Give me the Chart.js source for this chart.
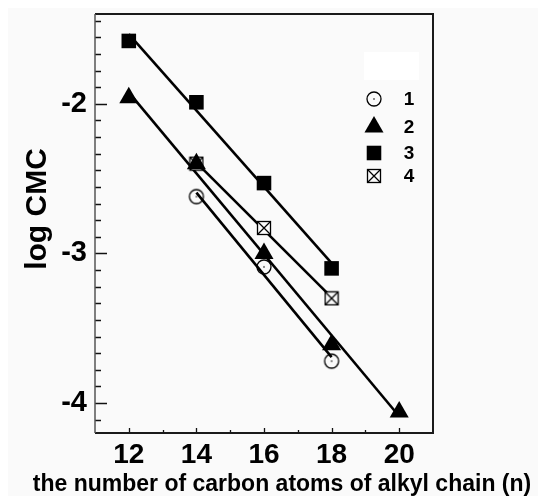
<!DOCTYPE html>
<html>
<head>
<meta charset="utf-8">
<script src="https://cdn.jsdelivr.net/npm/chart.js@4.4.1/dist/chart.umd.min.js"></script>
<style>
  html, body { margin: 0; padding: 0; background: #ffffff; }
  #grafico { display: block; }
</style>
</head>
<body>
<canvas id="grafico" width="538" height="496"></canvas>
<script>
// dados (n de carbonos x log CMC)
const xSerie1 = [14, 16, 18];
const ySerie1 = [-2.62, -3.09, -3.72];
const xSerie2 = [12, 14, 16, 18, 20];
const ySerie2 = [-1.96, -2.40, -3.00, -3.61, -4.06];
const xSerie3 = [12, 14, 16, 18];
const ySerie3 = [-1.58, -1.99, -2.53, -3.10];
const xSerie4 = [14, 16, 18];
const ySerie4 = [-2.40, -2.83, -3.30];

const nomesSeries = ["1", "2", "3", "4"];
const xTicks = [12, 14, 16, 18, 20];
const xTicksMenores = [13, 15, 17, 19];
const yTicks = [-4, -3, -2];
const yDivisoes = 9; // marcas menores por unidade no eixo y

const tituloX = "the number of carbon atoms of alkyl chain (n)";
const tituloY = "log CMC";

const fundo = "#fafafa";
const fonte = "'Liberation Sans', Arial, sans-serif";

// marcador: circulo vazio com ponto no meio
function marcadorCirculo() {
  const c = document.createElement("canvas");
  c.width = 18; c.height = 18;
  const g = c.getContext("2d");
  g.strokeStyle = "#000";
  g.lineWidth = 1.3;
  g.beginPath();
  g.arc(9, 9, 7, 0, Math.PI * 2);
  g.stroke();
  g.fillStyle = "#000";
  g.beginPath();
  g.arc(9, 9, 0.8, 0, Math.PI * 2);
  g.fill();
  return c;
}

// marcador: quadrado com X
function marcadorQuadradoX() {
  const c = document.createElement("canvas");
  c.width = 16; c.height = 16;
  const g = c.getContext("2d");
  g.fillStyle = fundo;
  g.fillRect(1, 1, 14, 14);
  g.strokeStyle = "#000";
  g.lineWidth = 1.3;
  g.strokeRect(1.5, 1.5, 13, 13);
  g.beginPath();
  g.moveTo(2, 2); g.lineTo(14, 14);
  g.moveTo(14, 2); g.lineTo(2, 14);
  g.stroke();
  return c;
}

const circulo = marcadorCirculo();
const quadradoX = marcadorQuadradoX();

const estilos = [
  { pointStyle: circulo, radius: 7 },
  { pointStyle: "triangle", radius: 11 },
  { pointStyle: "rect", radius: 10.3 },
  { pointStyle: quadradoX, radius: 8 }
];

const seriesX = [xSerie1, xSerie2, xSerie3, xSerie4];
const seriesY = [ySerie1, ySerie2, ySerie3, ySerie4];

// reta de regressao linear de cada serie
function ajusteLinear(xs, ys) {
  const n = xs.length;
  const mx = xs.reduce((a, b) => a + b, 0) / n;
  const my = ys.reduce((a, b) => a + b, 0) / n;
  let sxy = 0, sxx = 0;
  for (let i = 0; i < n; i++) {
    sxy += (xs[i] - mx) * (ys[i] - my);
    sxx += (xs[i] - mx) * (xs[i] - mx);
  }
  const a = sxy / sxx;
  const b = my - a * mx;
  const x0 = xs[0], x1 = xs[n - 1];
  return [{ x: x0, y: a * x0 + b }, { x: x1, y: a * x1 + b }];
}

const datasets = [];
seriesX.forEach((xs, i) => {
  datasets.push({
    label: nomesSeries[i],
    data: xs.map((x, j) => ({ x: x, y: seriesY[i][j] })),
    showLine: false,
    pointStyle: estilos[i].pointStyle,
    pointRadius: estilos[i].radius,
    pointBackgroundColor: "#000",
    pointBorderColor: "#000",
    pointBorderWidth: 0,
    order: 1
  });
});
seriesX.forEach((xs, i) => {
  datasets.push({
    label: "ajuste " + nomesSeries[i],
    data: ajusteLinear(xs, seriesY[i]),
    showLine: true,
    borderColor: "#000",
    borderWidth: 2.6,
    pointRadius: 0,
    order: 2
  });
});

const pluginFundo = {
  id: "fundo",
  beforeDraw(chart) {
    const ctx = chart.ctx;
    ctx.save();
    ctx.fillStyle = "#ffffff";
    ctx.fillRect(0, 0, chart.width, chart.height);
    ctx.fillStyle = fundo;
    ctx.fillRect(8, 8, chart.width - 8, chart.height - 8);
    ctx.restore();
  }
};

// moldura e marcas para dentro
const pluginEixos = {
  id: "eixos",
  afterDatasetsDraw(chart) {
    const ctx = chart.ctx;
    const a = chart.chartArea;
    const sx = chart.scales.x, sy = chart.scales.y;
    ctx.save();
    ctx.strokeStyle = "#111";
    ctx.lineWidth = 1.3;
    ctx.beginPath();
    yTicks.forEach((v) => {
      const y = Math.round(sy.getPixelForValue(v)) + 0.5;
      ctx.moveTo(a.left, y); ctx.lineTo(a.left + 12, y);
    });
    const passo = 1 / yDivisoes;
    for (let v = yTicks[0] - 2; v <= yTicks[yTicks.length - 1] + 2; v += passo) {
      const vv = Math.round(v * 1000) / 1000;
      if (vv <= sy.min || vv >= sy.max) continue;
      if (Math.abs(vv - Math.round(vv)) < 0.001) continue;
      const y = Math.round(sy.getPixelForValue(vv)) + 0.5;
      ctx.moveTo(a.left, y); ctx.lineTo(a.left + 6, y);
    }
    xTicks.forEach((v) => {
      const x = Math.round(sx.getPixelForValue(v)) + 0.5;
      ctx.moveTo(x, a.bottom); ctx.lineTo(x, a.bottom - 5);
    });
    xTicksMenores.forEach((v) => {
      const x = Math.round(sx.getPixelForValue(v)) + 0.5;
      ctx.moveTo(x, a.bottom); ctx.lineTo(x, a.bottom - 3);
    });
    ctx.stroke();

    ctx.lineWidth = 2;
    ctx.strokeStyle = "#1a1a1a";
    ctx.beginPath();
    ctx.moveTo(a.left, a.bottom);
    ctx.lineTo(a.right, a.bottom);
    ctx.lineTo(a.right, a.top);
    ctx.lineTo(a.left, a.top);
    ctx.stroke();
    ctx.strokeStyle = "#555";
    ctx.lineWidth = 1.5;
    ctx.beginPath();
    ctx.moveTo(a.left, a.top);
    ctx.lineTo(a.left, a.bottom);
    ctx.stroke();
    ctx.restore();
  }
};

// legenda e titulos dos eixos
const pluginLegenda = {
  id: "legenda",
  afterDraw(chart) {
    const ctx = chart.ctx;
    ctx.save();
    ctx.fillStyle = "#ffffff";
    ctx.fillRect(364, 52, 55, 28);
    const linhas = [99, 127, 153, 176];
    nomesSeries.forEach((nome, i) => {
      ctx.fillStyle = "#000";
      ctx.strokeStyle = "#000";
      Chart.helpers.drawPoint(ctx, {
        pointStyle: estilos[i].pointStyle,
        radius: estilos[i].radius,
        rotation: 0,
        borderWidth: 0
      }, 374, linhas[i]);
      ctx.fillStyle = "#000";
      ctx.font = "bold 19px " + fonte;
      ctx.textAlign = "center";
      ctx.textBaseline = "middle";
      ctx.fillText(nome, 409, linhas[i] + 1);
    });

    ctx.fillStyle = "#000";
    ctx.font = "bold 23px " + fonte;
    ctx.textAlign = "center";
    ctx.textBaseline = "alphabetic";
    ctx.fillText(tituloX, 282, 491);

    ctx.translate(38, 209);
    ctx.rotate(-Math.PI / 2);
    ctx.font = "bold 30px " + fonte;
    ctx.textBaseline = "middle";
    ctx.fillText(tituloY, 0, 0);
    ctx.restore();
  }
};

new Chart(document.getElementById("grafico"), {
  type: "scatter",
  data: { datasets: datasets },
  options: {
    responsive: false,
    animation: false,
    layout: { padding: { left: 0, top: 14, right: 105, bottom: 0 } },
    plugins: {
      legend: { display: false },
      tooltip: { enabled: false }
    },
    scales: {
      x: {
        type: "linear",
        min: 11,
        max: 21,
        afterFit: (s) => { s.height = 63; s.paddingLeft = 0; s.paddingRight = 0; },
        afterBuildTicks: (s) => { s.ticks = xTicks.map((v) => ({ value: v })); },
        grid: { display: false, drawTicks: false },
        border: { display: false },
        ticks: {
          color: "#000",
          padding: 5,
          font: { family: fonte, size: 28, weight: "bold" }
        }
      },
      y: {
        type: "linear",
        min: -4.2,
        max: -1.4,
        afterFit: (s) => { s.width = 95; s.paddingTop = 0; s.paddingBottom = 0; },
        afterBuildTicks: (s) => { s.ticks = yTicks.map((v) => ({ value: v })); },
        grid: { display: false, drawTicks: false },
        border: { display: false },
        ticks: {
          color: "#000",
          padding: 8,
          font: { family: fonte, size: 29, weight: "bold" }
        }
      }
    }
  },
  plugins: [pluginFundo, pluginEixos, pluginLegenda]
});
</script>
</body>
</html>
